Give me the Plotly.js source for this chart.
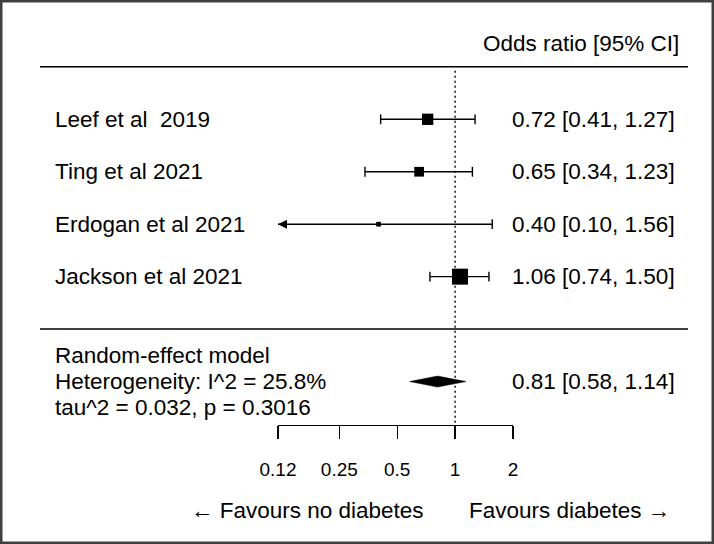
<!DOCTYPE html>
<html lang="en">
<head>
    <meta charset="UTF-8">
    <title>Forest plot: diabetes odds ratios</title>
    <script src="https://cdn.plot.ly/plotly-3.0.1.min.js"></script>
    <style>
        html, body { margin: 0; padding: 0; background: white; }
        #chart { width: 714px; height: 544px; }
    </style>
</head>
<body>
    <div id="chart"></div>

    <script>
        // Study data (odds ratio with 95% CI)
        const studies = ['Leef et al \u00a02019', 'Ting et al 2021', 'Erdogan et al 2021', 'Jackson et al 2021'];
        const oddsRatio = [0.72, 0.65, 0.40, 1.06];
        const ciLower = [0.41, 0.34, 0.10, 0.74];
        const ciUpper = [1.27, 1.23, 1.56, 1.50];
        const weights = [25.6, 18.8, 4.4, 51.2];

        // Pooled random-effects estimate
        const pooledOR = 0.81;
        const pooledLower = 0.58;
        const pooledUpper = 1.14;
        const summaryLines = ['Random-effect model', 'Heterogeneity: I^2 = 25.8%', 'tau^2 = 0.032, p = 0.3016'];

        const tickVals = [0.12, 0.25, 0.5, 1, 2];
        const tickText = ['0.12', '0.25', '0.5', '1', '2'];
        const headerText = 'Odds ratio [95% CI]';
        const favLeft = '\u2190 Favours no diabetes';
        const favRight = 'Favours diabetes \u2192';

        // ---- geometry (pixels in the 714 x 544 picture) ----
        const W = 714, H = 544;
        const axisLeftPx = 278, axisRightPx = 513, axisPx = 425;
        const row1Px = 119.3, rowStepPx = 52.45;
        const pyRow = px => 1 + (px - row1Px) / rowStepPx;
        const paperY = px => 1 - px / H;
        const font = 'Liberation Sans, Arial, sans-serif';
        const textSize = 22.5;

        const rows = studies.map((_, i) => i + 1);
        const pooledRow = 6;
        const xMin = tickVals[0], xMax = tickVals[tickVals.length - 1];

        // main (hidden) x axis spans the full width with the same log scale
        const r0 = Math.log10(xMin), r1 = Math.log10(xMax);
        const pxPerDec = (axisRightPx - axisLeftPx) / (r1 - r0);
        const fullRange = [r0 - axisLeftPx / pxPerDec, r1 + (W - axisRightPx) / pxPerDec];

        // CI lines, caps and arrows for clipped intervals
        const ciX = [], ciY = [], capX = [], capY = [], arrowX = [], arrowY = [], arrowSym = [];
        rows.forEach((r, i) => {
            const lo = Math.max(ciLower[i], xMin), hi = Math.min(ciUpper[i], xMax);
            ciX.push(lo, hi, null); ciY.push(r, r, null);
            if (ciLower[i] >= xMin) { capX.push(ciLower[i]); capY.push(r); }
            else { arrowX.push(xMin); arrowY.push(r); arrowSym.push('arrow-left'); }
            if (ciUpper[i] <= xMax) { capX.push(ciUpper[i]); capY.push(r); }
            else { arrowX.push(xMax); arrowY.push(r); arrowSym.push('arrow-right'); }
        });

        const maxW = Math.max(...weights);
        const boxSizes = weights.map(w => 16 * Math.sqrt(w / maxW));
        const diamondH = 5.5 / rowStepPx;

        const traces = [
            { // null line
                x: [1, 1], y: [pyRow(70.7), pyRow(axisPx)],
                mode: 'lines', line: { color: 'black', width: 1.4, dash: '2px,3px' },
                hoverinfo: 'skip'
            },
            {
                x: ciX, y: ciY, mode: 'lines',
                line: { color: 'black', width: 1.4 }, hoverinfo: 'skip'
            },
            {
                x: capX, y: capY, mode: 'markers',
                marker: { symbol: 'line-ns', size: 7, opacity: 1, line: { color: 'black', width: 1.4 } },
                hoverinfo: 'skip'
            },
            {
                x: arrowX, y: arrowY, mode: 'markers',
                marker: { symbol: arrowSym, size: 9, opacity: 1, color: 'black', line: { width: 0 } },
                hoverinfo: 'skip'
            },
            {
                x: oddsRatio, y: rows, mode: 'markers',
                marker: { symbol: 'square', size: boxSizes, opacity: 1, color: 'black', line: { width: 0 } },
                text: studies, hoverinfo: 'text+x'
            },
            { // pooled diamond
                x: [pooledLower, pooledOR, pooledUpper, pooledOR, pooledLower],
                y: [pooledRow, pooledRow - diamondH, pooledRow, pooledRow + diamondH, pooledRow],
                mode: 'lines', fill: 'toself', fillcolor: 'black',
                line: { color: 'black', width: 0.5 }, hoverinfo: 'skip'
            },
            { // carries the visible axis
                x: tickVals, y: tickVals.map(() => pooledRow), xaxis: 'x2', yaxis: 'y',
                mode: 'markers', marker: { opacity: 0 }, hoverinfo: 'skip'
            }
        ];

        const annotations = [];
        const ann = (text, x, y, xanchor, yref) => annotations.push({
            text: text, x: x, y: y, xref: 'paper', yref: yref, xanchor: xanchor, yanchor: 'middle',
            showarrow: false, borderpad: 0, borderwidth: 0,
            font: { family: font, size: textSize, color: 'black' }
        });

        ann(headerText, 679 / W, paperY(43.5), 'right', 'paper');
        studies.forEach((s, i) => {
            ann(s, 55 / W, rows[i], 'left', 'y');
            ann(oddsRatio[i].toFixed(2) + ' [' + ciLower[i].toFixed(2) + ', ' + ciUpper[i].toFixed(2) + ']',
                675 / W, rows[i], 'right', 'y');
        });
        summaryLines.forEach((s, i) => ann(s, 55 / W, pooledRow + (i - 1) * 0.5, 'left', 'y'));
        ann(pooledOR.toFixed(2) + ' [' + pooledLower.toFixed(2) + ', ' + pooledUpper.toFixed(2) + ']',
            675 / W, pooledRow, 'right', 'y');
        ann(favLeft, 424 / W, paperY(510), 'right', 'paper');
        ann(favRight, 469 / W, paperY(510), 'left', 'paper');

        const layout = {
            width: W, height: H,
            margin: { l: 0, r: 0, t: 0, b: 0 },
            paper_bgcolor: 'white', plot_bgcolor: 'rgba(0,0,0,0)',
            showlegend: false,
            font: { family: font, color: 'black' },
            xaxis: { type: 'log', range: fullRange, domain: [0, 1], visible: false, fixedrange: true },
            xaxis2: {
                type: 'log', range: [r0, r1], domain: [axisLeftPx / W, axisRightPx / W],
                anchor: 'free', position: paperY(axisPx),
                showline: true, linecolor: 'black', linewidth: 1.4,
                ticks: 'outside', ticklen: 13, tickwidth: 1.4, tickcolor: 'black',
                tickvals: tickVals, ticktext: tickText, ticklabelstandoff: 14,
                tickfont: { family: font, size: 19, color: 'black' },
                showgrid: false, zeroline: false, fixedrange: true
            },
            yaxis: {
                range: [pyRow(H), pyRow(0)], domain: [0, 1], visible: false, fixedrange: true
            },
            shapes: [
                { type: 'line', xref: 'paper', yref: 'y', x0: 40 / W, x1: 688 / W,
                  y0: 0, y1: 0, line: { color: 'black', width: 1.5 } },
                { type: 'line', xref: 'paper', yref: 'y', x0: 40 / W, x1: 688 / W,
                  y0: 5, y1: 5, line: { color: 'black', width: 1.5 } },
                { type: 'rect', xref: 'paper', yref: 'paper', x0: 0, x1: 1, y0: 0, y1: 1,
                  line: { color: '#404040', width: 5 } }
            ],
            annotations: annotations
        };

        Plotly.newPlot('chart', traces, layout, { displayModeBar: false, staticPlot: true });
    </script>
</body>
</html>
